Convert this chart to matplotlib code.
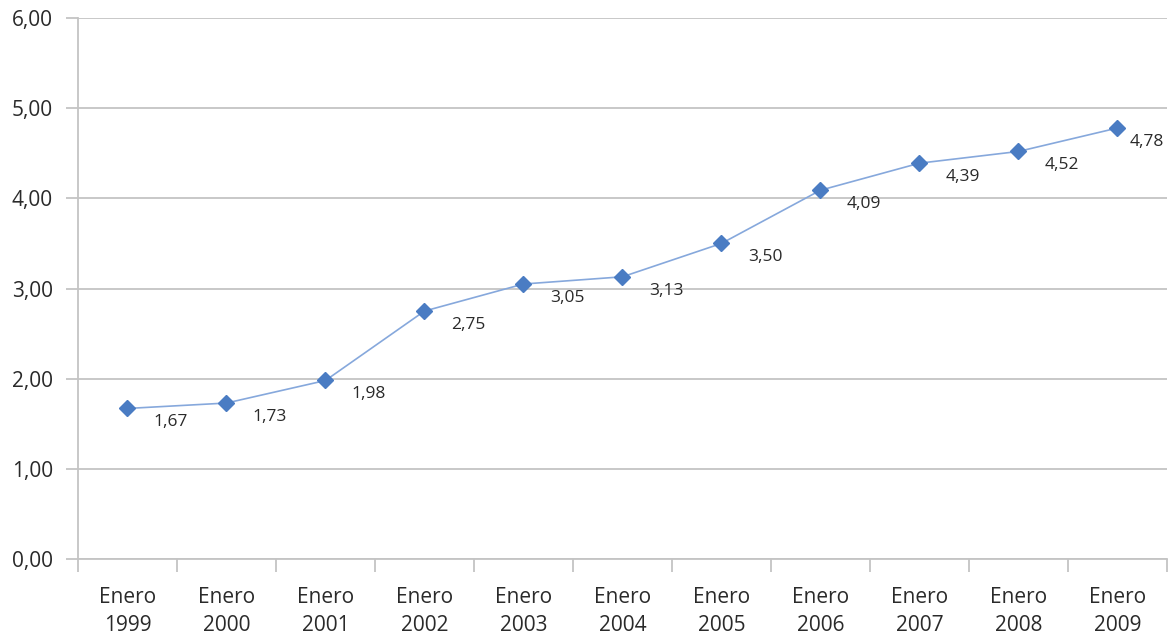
import matplotlib.pyplot as plt
import numpy as np

anios = ['1999', '2000', '2001', '2002', '2003', '2004', '2005', '2006', '2007', '2008', '2009']
valores = [1.67, 1.73, 1.98, 2.75, 3.05, 3.13, 3.50, 4.09, 4.39, 4.52, 4.78]
etiquetas = ['Enero\n' + a for a in anios]
yticks = [0, 1, 2, 3, 4, 5, 6]

plt.rcParams['font.family'] = ['Open Sans', 'DejaVu Sans']

fig = plt.figure(figsize=(11.74, 6.36), dpi=100)
ax = fig.add_axes([0.0664, 0.121, 0.9276, 0.8507])

x = np.arange(len(valores))
ax.plot(x, valores, color='#86a8dc', linewidth=1.2, zorder=3)
ax.plot(x, valores, linestyle='none', marker='D', markersize=8,
        color='#4a7cc3', zorder=4)

# value labels to the lower right of each point (last one pulled in to fit)
for xi, v in zip(x, valores):
    dx = 9 if xi == len(valores) - 1 else 19
    ax.annotate(f'{v:.2f}'.replace('.', ','), (xi, v), xytext=(dx, -10),
                textcoords='offset points', ha='left', va='center',
                fontsize=12.5, color='#2a2a2a')

ax.set_xlim(-0.5, len(valores) - 0.5)
ax.set_ylim(0, 6)
ax.set_yticks(yticks)
ax.set_yticklabels([f'{t:.2f}'.replace('.', ',') for t in yticks])
ax.set_xticks(x)
ax.set_xticklabels(etiquetas, linespacing=1.45)
ax.set_xticks(np.arange(-0.5, len(valores)), minor=True)

ax.yaxis.grid(True, color='#c4c4c4', linewidth=1.3)
ax.set_axisbelow(True)
for side in ['top', 'right']:
    ax.spines[side].set_visible(False)
for side in ['left', 'bottom']:
    ax.spines[side].set_color('#c4c4c4')
    ax.spines[side].set_linewidth(1.3)

ax.tick_params(axis='y', length=9, width=1.3, color='#c4c4c4', pad=9,
               labelsize=15, labelcolor='#2a2a2a')
ax.tick_params(axis='x', which='major', length=0, pad=20,
               labelsize=15, labelcolor='#2a2a2a')
ax.tick_params(axis='x', which='minor', length=9, width=1.3, color='#c4c4c4')

fig.savefig('out.png', dpi=100, facecolor='white')
